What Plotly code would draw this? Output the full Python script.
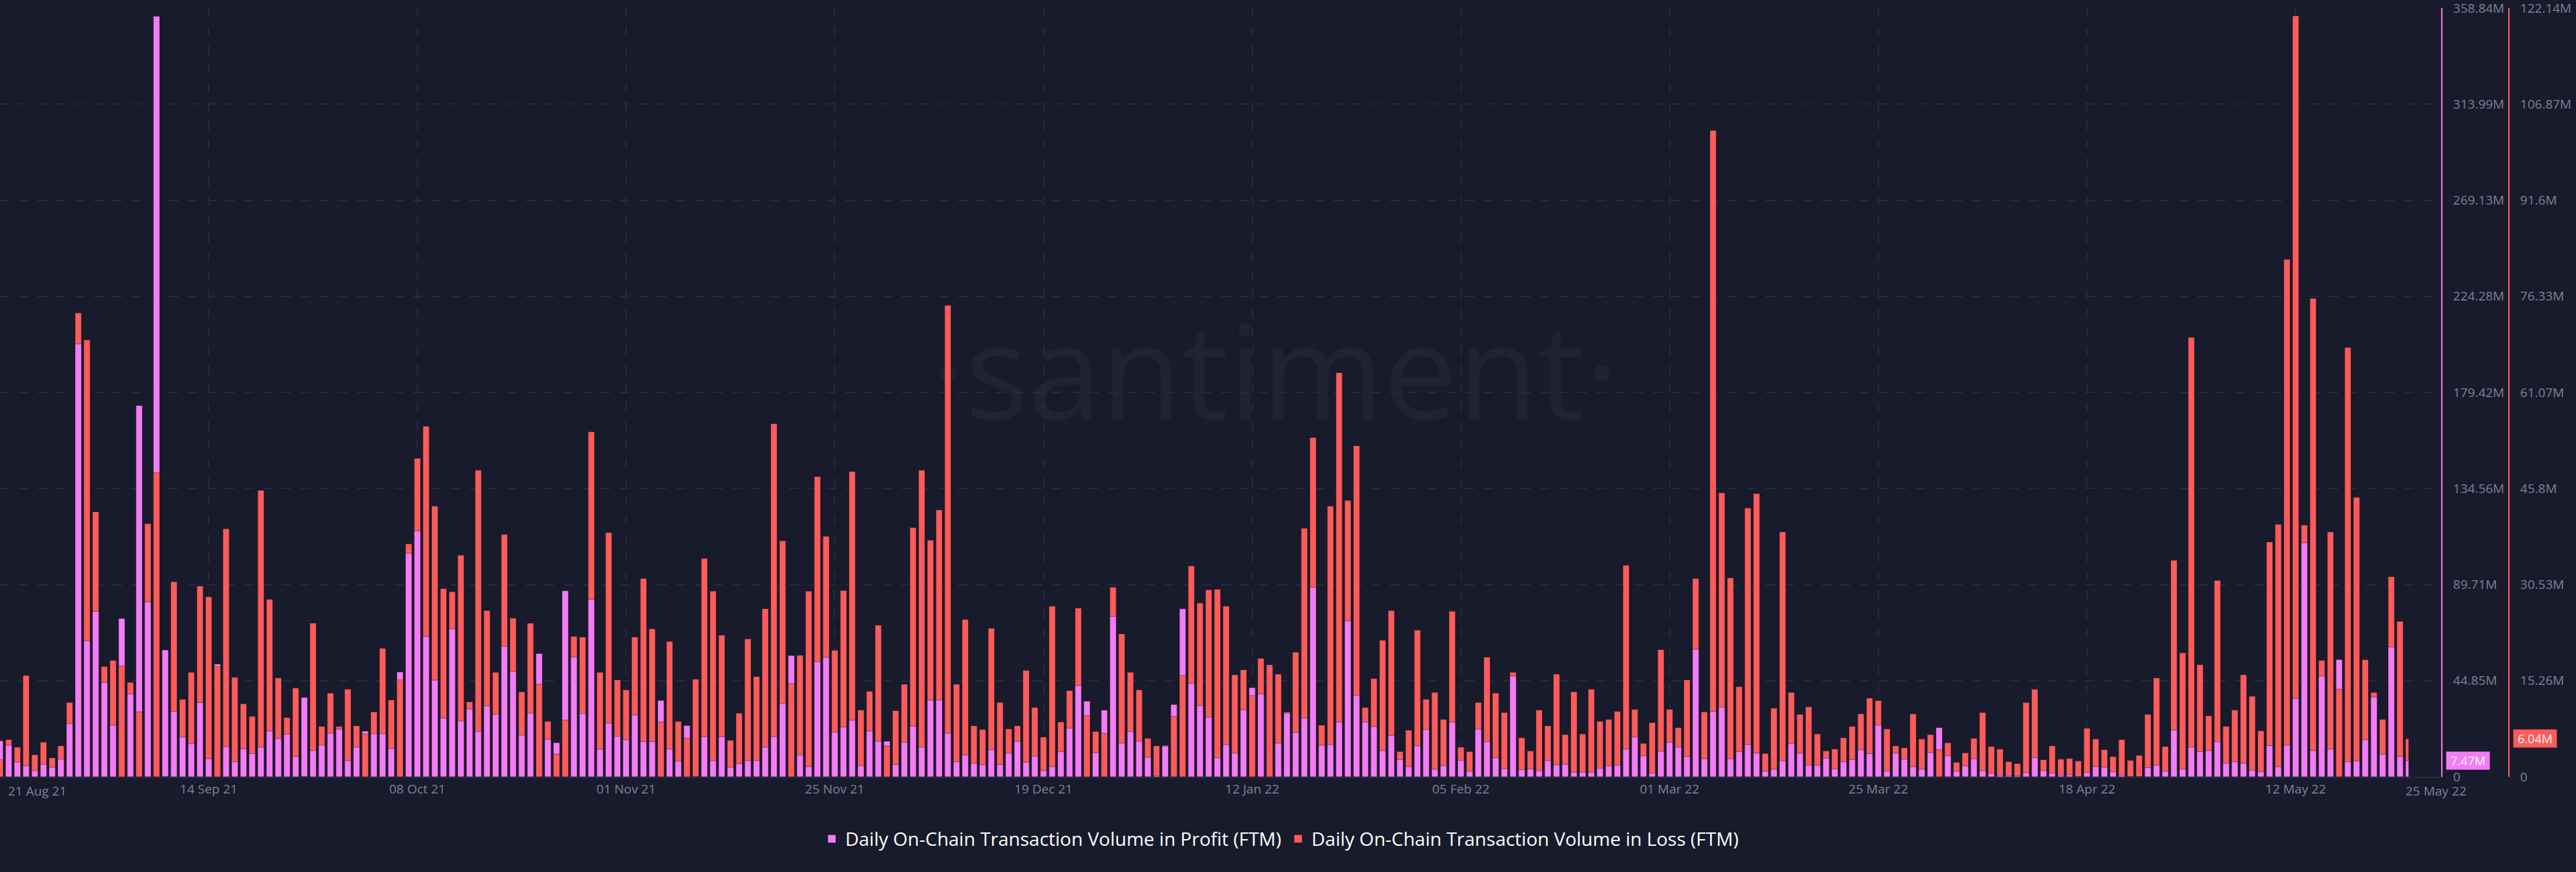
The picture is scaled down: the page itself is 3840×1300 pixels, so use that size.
import pandas as pd
import plotly.graph_objects as go

# ---------------- data ----------------
dates = pd.date_range("2021-08-21", "2022-05-25", freq="D")

profit = [
    16.8, 14.7, 6.8, 5.1, 2.8, 5.8, 4.4, 8.2, 24.8, 202.0, 63.4, 77.2, 44.0, 24.1, 73.9, 38.6, 173.3, 81.6, 355.0, 59.2,
    30.4, 18.5, 15.4, 34.6, 8.4, 52.6, 14.0, 7.0, 13.1, 10.8, 13.8, 21.3, 17.8, 19.9, 9.4, 37.0, 12.2, 14.7, 20.3, 22.2,
    7.5, 13.8, 21.3, 20.1, 20.1, 13.1, 48.9, 104.3, 114.8, 65.5, 45.1, 27.4, 69.0, 26.0, 31.6, 21.1, 33.0, 29.2, 60.8, 49.1,
    19.4, 29.7, 57.5, 17.5, 15.9, 86.8, 55.9, 29.5, 82.8, 12.9, 25.0, 18.9, 17.3, 28.8, 16.4, 16.4, 35.6, 12.9, 7.3, 23.9,
    0.0, 18.7, 7.5, 18.7, 4.4, 6.1, 7.5, 7.5, 13.8, 18.7, 34.1, 56.6, 10.1, 4.7, 53.6, 55.7, 20.8, 23.2, 26.4, 5.1,
    21.3, 16.6, 16.6, 5.6, 16.1, 23.6, 13.8, 35.8, 35.8, 20.3, 7.0, 10.1, 6.3, 5.6, 12.6, 5.6, 11.0, 16.6, 6.8, 9.6,
    2.8, 4.7, 11.7, 22.7, 42.6, 35.3, 11.2, 31.1, 74.8, 15.7, 21.1, 16.6, 9.1, 0.5, 14.3, 33.7, 78.4, 43.5, 33.2, 27.8,
    8.9, 15.0, 11.0, 31.3, 41.6, 38.6, 52.2, 15.7, 29.7, 20.6, 27.4, 88.4, 14.7, 15.0, 25.5, 72.7, 37.9, 25.5, 23.4, 12.2,
    19.2, 8.0, 4.7, 14.5, 22.0, 3.5, 5.1, 25.5, 7.7, 2.6, 22.2, 16.4, 8.9, 3.7, 47.0, 3.3, 3.7, 2.8, 7.5, 5.6,
    5.8, 2.1, 2.1, 2.1, 4.0, 5.1, 5.4, 12.9, 18.5, 9.8, 1.6, 11.9, 16.1, 13.8, 9.4, 59.4, 8.4, 30.4, 32.5, 8.4,
    11.7, 15.0, 11.0, 2.6, 3.5, 7.5, 15.4, 11.0, 5.4, 5.4, 8.7, 3.7, 7.0, 8.0, 12.6, 10.8, 24.1, 2.6, 11.0, 8.2,
    4.7, 3.5, 11.2, 22.9, 9.8, 2.6, 5.1, 8.4, 2.8, 1.6, 0.7, 0.5, 0.5, 1.9, 8.9, 2.8, 1.6, 0.7, 0.9, 0.1,
    1.9, 4.7, 4.4, 2.3, 0.7, 0.1, 0.1, 4.2, 5.4, 2.6, 21.8, 3.5, 13.8, 11.7, 12.2, 16.4, 6.3, 7.0, 6.3, 3.0,
    2.3, 14.5, 4.7, 14.7, 36.5, 109.2, 12.2, 47.0, 12.9, 54.7, 7.0, 7.3, 17.3, 37.2, 10.5, 60.6, 9.4, 7.47,
]

loss = [
    2.7, 5.9, 4.7, 16.1, 3.5, 5.5, 3.0, 4.9, 11.8, 73.7, 69.4, 42.1, 17.5, 18.5, 17.6, 15.0, 10.3, 40.2, 48.3, 0.0,
    31.0, 12.3, 16.6, 30.3, 28.6, 17.5, 39.4, 15.8, 11.6, 9.6, 45.5, 28.2, 15.7, 9.4, 14.1, 0.0, 24.4, 8.0, 13.3, 8.0,
    13.9, 8.1, 6.8, 10.3, 20.4, 12.2, 15.4, 37.0, 50.6, 55.7, 43.0, 29.9, 29.4, 35.2, 11.9, 48.7, 26.4, 16.6, 38.5, 25.2,
    13.5, 24.4, 14.7, 8.8, 3.6, 9.0, 22.3, 22.2, 54.8, 16.6, 38.8, 15.4, 13.8, 22.2, 31.5, 23.5, 8.7, 21.5, 8.8, 6.1,
    15.5, 34.7, 29.5, 22.5, 5.8, 10.1, 21.9, 15.9, 26.7, 56.1, 37.5, 14.8, 19.3, 29.5, 47.7, 38.2, 20.1, 29.6, 48.5, 10.6,
    13.6, 24.1, 4.9, 10.5, 14.7, 39.6, 48.7, 37.6, 42.4, 74.9, 14.7, 25.0, 8.1, 7.5, 23.6, 11.8, 7.6, 8.1, 16.9, 11.0,
    6.3, 27.1, 8.7, 13.7, 26.8, 9.7, 7.2, 6.9, 30.1, 22.7, 16.6, 13.8, 6.1, 4.9, 5.0, 9.6, 16.1, 33.5, 27.6, 29.7,
    29.8, 27.1, 16.2, 17.0, 12.9, 18.8, 17.5, 16.3, 10.3, 19.8, 39.5, 53.9, 8.2, 43.0, 64.2, 43.9, 52.6, 11.0, 15.6, 21.7,
    26.4, 4.0, 7.4, 23.3, 12.3, 13.4, 9.1, 26.3, 4.7, 4.0, 11.8, 19.0, 13.3, 10.2, 16.6, 6.2, 4.1, 10.6, 8.1, 16.3,
    6.7, 13.5, 6.8, 13.9, 8.8, 9.1, 10.4, 33.6, 10.7, 5.3, 8.6, 20.2, 10.7, 7.8, 15.4, 31.5, 10.3, 102.7, 45.1, 31.6,
    14.3, 42.7, 45.0, 3.7, 10.9, 38.9, 13.4, 9.9, 11.1, 6.8, 4.1, 4.4, 6.2, 8.0, 10.0, 12.5, 12.1, 7.6, 4.9, 4.6,
    10.0, 6.0, 6.7, 4.3, 5.4, 2.3, 3.8, 6.1, 10.2, 4.8, 4.4, 2.4, 2.1, 11.8, 13.9, 2.7, 4.9, 2.8, 2.9, 2.5,
    7.7, 6.0, 4.3, 3.2, 5.9, 2.6, 3.4, 9.9, 15.7, 4.8, 34.4, 19.7, 69.8, 17.8, 9.7, 31.2, 8.0, 10.6, 16.2, 12.8,
    7.3, 37.3, 40.1, 82.2, 120.9, 40.0, 76.0, 18.5, 38.9, 13.9, 68.2, 44.4, 18.6, 13.4, 9.1, 31.8, 24.7, 6.04,
]

x_tick_dates = ["2021-08-21", "2021-09-14", "2021-10-08", "2021-11-01", "2021-11-25", "2021-12-19",
                "2022-01-12", "2022-02-05", "2022-03-01", "2022-03-25", "2022-04-18", "2022-05-12"]
x_tick_labels = ["", "14 Sep 21", "08 Oct 21", "01 Nov 21", "25 Nov 21", "19 Dec 21",
                 "12 Jan 22", "05 Feb 22", "01 Mar 22", "25 Mar 22", "18 Apr 22", "12 May 22"]
first_label = "21 Aug 21"
last_label = "25 May 22"

profit_max = 358.84
loss_max = 122.14
profit_ticks = [0, 44.85, 89.71, 134.56, 179.42, 224.28, 269.13, 313.99, 358.84]
profit_tick_labels = ["0", "44.85M", "89.71M", "134.56M", "179.42M", "224.28M", "269.13M", "313.99M", "358.84M"]
loss_ticks = [0, 15.26, 30.53, 45.8, 61.07, 76.33, 91.6, 106.87, 122.14]
loss_tick_labels = ["0", "15.26M", "30.53M", "45.8M", "61.07M", "76.33M", "91.6M", "106.87M", "122.14M"]

name_profit = "Daily On-Chain Transaction Volume in Profit (FTM)"
name_loss = "Daily On-Chain Transaction Volume in Loss (FTM)"

# ---------------- styling ----------------
BG = "#181b2b"
PINK = "#f47cf6"
RED = "#ff5b5b"
GRID = "#262a3b"
TICK = "#7c8297"
FONT = "Open Sans"

W, H = 3840, 1300
plot_right = 3640
y2_pos = plot_right / W          # profit axis (pink)
y1_pos = (plot_right + 100) / W  # loss axis (red)

DAY = 86400000
bw = 0.72 * DAY
n = len(dates)
widths = [bw] * n
offsets = [-bw / 2] * n
widths[-1] = bw / 2  # last bar is cut at the latest date
offsets[-1] = -bw / 2

# shorter bar (relative to its own axis) drawn in front
loss_back = [l if l / loss_max >= p / profit_max else None for p, l in zip(profit, loss)]
loss_front = [l if l / loss_max < p / profit_max else None for p, l in zip(profit, loss)]

line_style = dict(color="rgba(15,16,28,0.45)", width=1)

fig = go.Figure()
fig.add_trace(go.Bar(x=dates, y=loss_back, yaxis="y", name=name_loss, legendgroup="loss",
                     legendrank=2, width=widths, offset=offsets,
                     marker=dict(color=RED, line=line_style)))
fig.add_trace(go.Bar(x=dates, y=profit, yaxis="y2", name=name_profit, legendgroup="profit",
                     legendrank=1, width=widths, offset=offsets,
                     marker=dict(color=PINK, line=line_style)))
fig.add_trace(go.Bar(x=dates, y=loss_front, yaxis="y3", name=name_loss, legendgroup="loss",
                     showlegend=False, width=widths, offset=offsets,
                     marker=dict(color=RED, line=line_style)))

x_end = pd.Timestamp("2021-08-21") + pd.Timedelta(days=plot_right / 12.9625)

fig.update_layout(
    width=W, height=H,
    paper_bgcolor=BG, plot_bgcolor=BG,
    margin=dict(l=0, r=0, t=12, b=142),
    barmode="overlay",
    font=dict(family=FONT, color=TICK, size=19),
    showlegend=True,
    legend=dict(orientation="h", x=0.497, xanchor="center", y=-0.081, yanchor="middle",
                font=dict(size=28, color="#ffffff", family=FONT), bgcolor="rgba(0,0,0,0)",
                itemwidth=30, traceorder="normal"),
    xaxis=dict(type="date", domain=[0, y2_pos], range=[pd.Timestamp("2021-08-21"), x_end],
               tickvals=x_tick_dates, ticktext=x_tick_labels, ticks="",
               showgrid=True, gridcolor=GRID, gridwidth=2, griddash="14px,14px",
               showline=True, linecolor=GRID, linewidth=2, zeroline=False,
               tickfont=dict(size=19, color=TICK), ticklabelstandoff=0),
    yaxis=dict(range=[0, loss_max], anchor="free", position=y1_pos, side="right",
               tickvals=loss_ticks, ticktext=loss_tick_labels, ticks="",
               showline=True, linecolor=RED, linewidth=2,
               showgrid=True, gridcolor=GRID, gridwidth=2, griddash="14px,14px",
               zeroline=False, tickfont=dict(size=19, color=TICK), ticklabelstandoff=12,
               ticklabeloverflow="allow", automargin=False),
    yaxis2=dict(range=[0, profit_max], overlaying="y", anchor="free", position=y2_pos, side="right",
                tickvals=profit_ticks, ticktext=profit_tick_labels, ticks="",
                showline=True, linecolor=PINK, linewidth=2, showgrid=False, zeroline=False,
                tickfont=dict(size=19, color=TICK), ticklabelstandoff=12,
                ticklabeloverflow="allow", automargin=False),
    yaxis3=dict(range=[0, loss_max], overlaying="y", visible=False),
)

# watermark (behind the bars)
fig.add_shape(type="rect", xref="paper", yref="paper", x0=0.3, x1=0.69, y0=0.40, y1=0.64,
              line=dict(width=0), fillcolor="rgba(0,0,0,0)", layer="below",
              label=dict(text="·santiment·", font=dict(size=196, color="#1f2334", family=FONT),
                         textposition="middle center"))

# edge date labels
fig.add_annotation(x=dates[0], xref="x", y=-0.0183, yref="paper", text=first_label, showarrow=False,
                   xanchor="left", yanchor="middle", xshift=10, font=dict(size=19, color=TICK))
fig.add_annotation(x=dates[-1], xref="x", y=-0.0183, yref="paper", text=last_label, showarrow=False,
                   xanchor="left", yanchor="middle", xshift=-7, font=dict(size=19, color=TICK))

# latest value badges
fig.add_annotation(x=(plot_right + 6) / W, xref="paper", y=profit[-1], yref="y2",
                   text=f"{profit[-1]:.2f}M", showarrow=False, xanchor="left", yanchor="middle",
                   bgcolor=PINK, width=62, height=24, borderpad=1,
                   font=dict(size=18, color="#ffffff", family=FONT))
fig.add_annotation(x=(plot_right + 106) / W, xref="paper", y=loss[-1], yref="y",
                   text=f"{loss[-1]:.2f}M", showarrow=False, xanchor="left", yanchor="middle",
                   bgcolor=RED, width=62, height=24, borderpad=1,
                   font=dict(size=18, color="#ffffff", family=FONT))

fig.write_html("out.html", config={"displayModeBar": False},
               post_script="document.body.style.margin='0';document.body.style.overflow='hidden';")
